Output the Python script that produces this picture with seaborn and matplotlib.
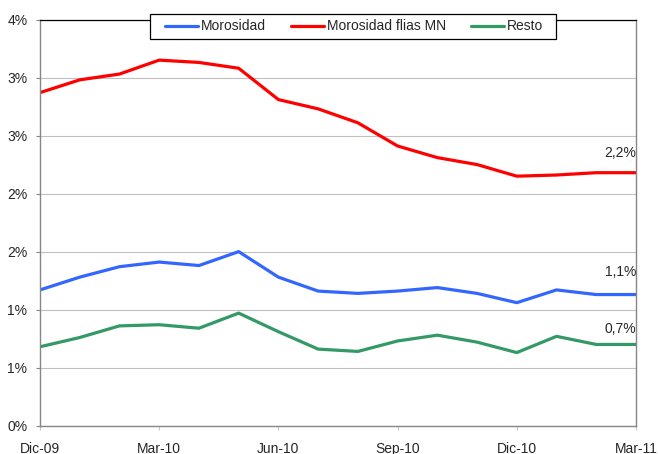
import numpy as np
import pandas as pd
import matplotlib
matplotlib.use("Agg")
import matplotlib.pyplot as plt
import matplotlib.ticker as mticker
from matplotlib.patches import Rectangle
import seaborn as sns

# Monthly delinquency ratios (%), Dic-09 .. Mar-11
MONTHS = ["Dic-09", "Ene-10", "Feb-10", "Mar-10", "Abr-10", "May-10", "Jun-10",
          "Jul-10", "Ago-10", "Sep-10", "Oct-10", "Nov-10", "Dic-10", "Ene-11",
          "Feb-11", "Mar-11"]
MOROSIDAD = [1.17, 1.28, 1.37, 1.41, 1.38, 1.50, 1.28, 1.16, 1.14, 1.16, 1.19,
             1.14, 1.06, 1.17, 1.13, 1.13]
MOROSIDAD_FLIAS = [2.87, 2.98, 3.03, 3.15, 3.13, 3.08, 2.81, 2.73, 2.61, 2.41,
                   2.31, 2.25, 2.15, 2.16, 2.18, 2.18]
RESTO = [0.68, 0.76, 0.86, 0.87, 0.84, 0.97, 0.81, 0.66, 0.64, 0.73, 0.78,
         0.72, 0.63, 0.77, 0.70, 0.70]
SERIES = ["Morosidad", "Morosidad flias MN", "Resto"]
END_LABELS = ["1,1%", "2,2%", "0,7%"]
TICK_MONTHS = ["Dic-09", "Mar-10", "Jun-10", "Sep-10", "Dic-10", "Mar-11"]

COLORS = {"Morosidad": "#3366FF", "Morosidad flias MN": "#FF0000", "Resto": "#339966"}
GREY = "#868686"

sns.set_style("white")
plt.rcParams["font.family"] = ["Liberation Sans", "DejaVu Sans"]
plt.rcParams["font.size"] = 10

idx = np.arange(len(MONTHS))
df = pd.DataFrame({
    "x": np.tile(idx, 3),
    "valor": MOROSIDAD + MOROSIDAD_FLIAS + RESTO,
    "serie": np.repeat(SERIES, len(MONTHS)),
})

fig = plt.figure(figsize=(6.58, 4.54), dpi=100)
ax = fig.add_axes([40 / 658, 28.3 / 454, 596 / 658, 406.2 / 454])

sns.lineplot(data=df, x="x", y="valor", hue="serie", palette=COLORS,
             linewidth=2.3, ax=ax, legend=False)

ax.set_xlim(0, len(MONTHS) - 1)
ax.set_ylim(0, 3.5)
ax.set_yticks(np.arange(0, 3.51, 0.5))
# Excel-style rounding: 0.5 -> 1%, 1.5 -> 2% ...
ax.yaxis.set_major_formatter(mticker.FuncFormatter(
    lambda v, _: f"{int(np.floor(v + 0.5 + 1e-9))}%"))
ax.set_xticks([MONTHS.index(m) for m in TICK_MONTHS])
ax.set_xticklabels(TICK_MONTHS)
ax.set_xlabel("")
ax.set_ylabel("")

ax.grid(axis="y", color="#C0C0C0", linewidth=0.8)
ax.set_axisbelow(True)
for side in ["left", "right", "bottom"]:
    ax.spines[side].set_color(GREY)
    ax.spines[side].set_linewidth(1.0)
ax.spines["top"].set_color("black")
ax.spines["top"].set_linewidth(0.9)

ax.tick_params(axis="y", which="major", left=True, length=3, width=0.8,
               color=GREY, pad=6, labelsize=10)
ax.tick_params(axis="x", which="major", bottom=True, length=3, width=0.8,
               color="#C8C8C8", pad=9, labelsize=10)

last = {"Morosidad": MOROSIDAD[-1], "Morosidad flias MN": MOROSIDAD_FLIAS[-1],
        "Resto": RESTO[-1]}
offsets = {"Morosidad": 11, "Morosidad flias MN": 9, "Resto": 6}
for name, lab in zip(SERIES, END_LABELS):
    ax.annotate(lab, xy=(len(MONTHS) - 1, last[name]), xytext=(0, offsets[name]),
                textcoords="offset points", ha="right", va="bottom", fontsize=10)

# legend box drawn separately (Excel keeps wider side padding)
fig.patches.append(Rectangle((150 / 658, (454 - 39) / 454), 406 / 658, 25 / 454,
                             transform=fig.transFigure, facecolor="white",
                             edgecolor="black", linewidth=0.9, zorder=3))
handles = [plt.Line2D([], [], color=COLORS[s], linewidth=2.3) for s in SERIES]
leg = fig.legend(handles, SERIES, loc="center", ncol=3,
                 bbox_to_anchor=(354 / 658, 427.5 / 454),
                 frameon=False, handlelength=2.4,
                 handletextpad=0.2, columnspacing=1.8, borderpad=0.35,
                 fontsize=10)
leg.set_zorder(4)

fig.savefig("out.png", dpi=100, facecolor="white")
